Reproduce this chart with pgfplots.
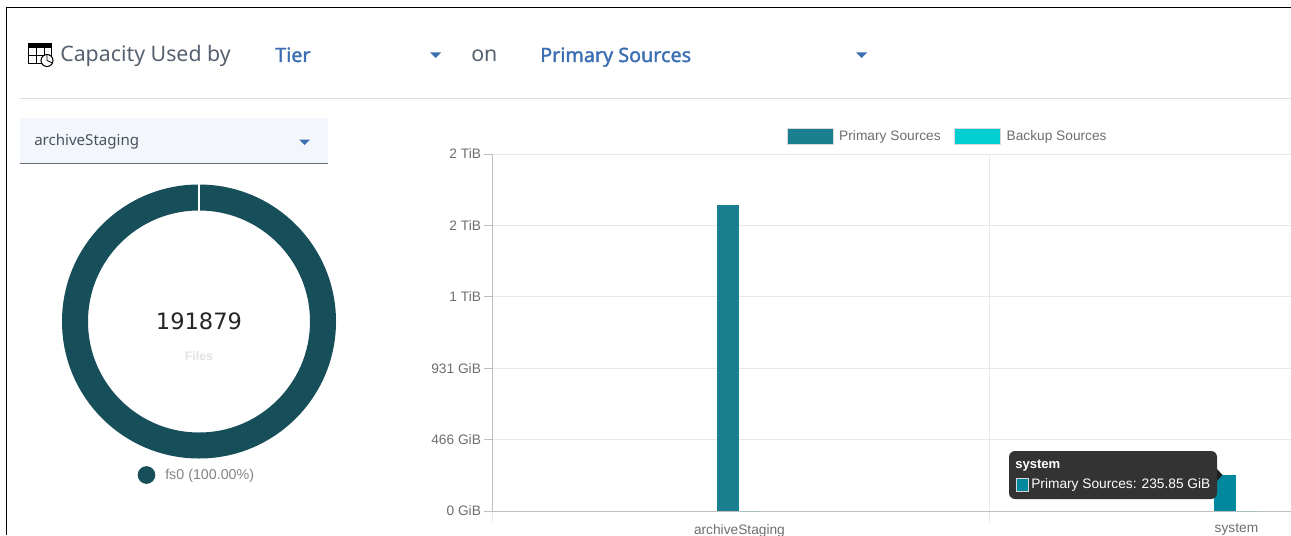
\documentclass[border=0pt]{standalone}
\usepackage{pgfplots}
\pgfplotsset{compat=1.18}
\usepackage{fontspec}
\setmainfont{Liberation Sans}
\newfontfamily\plex{Noto Sans}
\newfontfamily\plexb[FakeBold=1.6]{Noto Sans}
\newfontfamily\dejavu{DejaVu Sans}
\definecolor{pri}{HTML}{1A7F8E}
\definecolor{prihov}{HTML}{00889E}
\definecolor{bak}{HTML}{00CED1}
\definecolor{donut}{HTML}{164E5A}
\definecolor{ibm}{HTML}{3D70B2}
\definecolor{head}{HTML}{566270}
\definecolor{txt}{HTML}{6E6E6E}
\definecolor{gridc}{HTML}{E8E8E8}
\definecolor{sepc}{HTML}{DDDDDD}
\definecolor{ddbg}{HTML}{F3F6FB}
\definecolor{ddline}{HTML}{67707A}
\definecolor{tipbg}{HTML}{333333}
\definecolor{tiparr}{HTML}{222222}
\newcommand{\fsz}[1]{\fontsize{#1}{#1}\selectfont}
\begin{document}
\begin{tikzpicture}[x=0.75pt,y=-0.75pt]
\path[use as bounding box,fill=white] (0,0) rectangle (1291,535);
% frame
\draw[black,line width=0.9pt] (6.5,535) -- (6.5,7.5) -- (1291,7.5);
% header
\draw[fill=black,draw=none] (28,43) rectangle (52,48);
\draw[black,line width=0.8pt] (28.5,47) rectangle (51.5,63.5);
\draw[black,line width=0.7pt] (36,47)--(36,63.5) (44,47)--(44,63.5) (28.5,55)--(51.5,55);
\draw[black,fill=white,line width=0.8pt] (47,60.5) circle[radius=6];
\draw[black,line width=0.6pt] (47,60.5)--(47,54.5) (47,60.5)--(52.5,63) ;
\node[anchor=base west,inner sep=0,text=head] at (60,61) {\plex\fsz{16}Capacity Used by};
\node[anchor=base west,inner sep=0,text=ibm] at (275,62) {\plexb\fsz{14.8}Tier};
\node[anchor=base west,inner sep=0,text=head] at (471,61) {\plex\fsz{16}on};
\node[anchor=base west,inner sep=0,text=ibm] at (540,62) {\plexb\fsz{14.8}Primary Sources};
\fill[ibm] (430,52.5)--(441,52.5)--(435.5,58)--cycle;
\fill[ibm] (856,52.5)--(867,52.5)--(861.5,58)--cycle;
\draw[sepc,line width=0.75pt] (20,98.5)--(1291,98.5);
% dropdown
\fill[ddbg] (20,118) rectangle (328,163);
\draw[ddline,line width=0.9pt] (20,163.5)--(328,163.5);
\node[anchor=base west,inner sep=0,text=head!85!black] at (34,145) {\plex\fsz{11.3}archiveStaging};
\fill[ibm] (299,139.5)--(310,139.5)--(304.5,145)--cycle;
% donut
\path (199,321.5) coordinate (dc);
\begin{axis}[at={(dc)},anchor=center,scale only axis,width=205.5pt,height=205.5pt,
 xmin=-137,xmax=137,ymin=-137,ymax=137,hide axis,clip=false]
\addplot[only marks,mark=o,mark size=93pt,mark options={draw=donut,line width=19.5pt}] coordinates {(0,0)};
\addplot[only marks,mark=*,mark size=6.4pt,mark options={fill=donut,draw=donut}] coordinates {(-52.5,-153.5)};
\end{axis}
\draw[white,line width=1.5pt] (199,183)--(199,211);
\node[text=black!85] at (199,321) {\dejavu\fsz{16.9}191879};
\node[text=black!11] at (199,356) {\bfseries\fsz{9.3}Files};
\node[anchor=base west,inner sep=0,text=txt!85] at (165,479) {\fsz{10.7}fs0 (100.00\%)};
% bar chart
\path (492,511) coordinate (ao);
\begin{axis}[at={(ao)},anchor=south west,scale only axis,width=599.25pt,height=267.75pt,
 xmin=-0.5,xmax=1.1076,ymin=0,ymax=2328.3,
 axis x line=bottom,axis y line=left,axis line style={-,draw=black!25},
 tick align=outside,
 xtick={0,1},xticklabels={archiveStaging,system},
 minor xtick={-0.5,0.5},xminorgrids=true,
 minor tick length=8pt,major tick length=6pt,
 x tick style={draw=none},
 minor x tick style={draw=gridc,line width=0.6pt},
 ytick={0,465.66,931.32,1396.98,1862.64,2328.3},
 yticklabels={0 GiB,466 GiB,931 GiB,1 TiB,2 TiB,2 TiB},
 ymajorgrids=true,
 y tick style={draw=black!25,line width=0.6pt},
 grid style={draw=gridc,line width=0.6pt},
 minor grid style={draw=gridc,line width=0.6pt},
 tick label style={font=\fsz{10.3},text=txt},
 xticklabel style={yshift=-0.3pt,xshift=-0.8pt},
 yticklabel style={xshift=1.25pt},
 legend columns=2,
 legend style={at={(0.5707,1.0495)},anchor=center,draw=none,fill=none,
   font=\fsz{10.3},text=txt,
   /tikz/every even column/.append style={column sep=8pt},
   /tikz/every odd column/.append style={column sep=2.5pt},inner sep=0pt},
 legend cell align=left,
]
\addplot[ybar,bar width=17pt,bar shift=-9.3pt,fill=pri,draw=none,
  legend image code/.code={\fill[pri,draw=black!15,line width=0.4pt] (0pt,-6.2pt) rectangle (34.5pt,6.2pt);}]
  coordinates {(0,1996)};
\addlegendentry{Primary Sources}
\addplot[ybar,bar width=17pt,bar shift=-9.3pt,fill=prihov,draw=none,forget plot]
  coordinates {(1,235.85)};
\addplot[ybar,bar width=17pt,bar shift=8pt,fill=bak,draw=none,
  legend image code/.code={\fill[bak,draw=black!15,line width=0.4pt] (0pt,-6.2pt) rectangle (34.5pt,6.2pt);}]
  coordinates {(0,0)(1,0)};
\addlegendentry{Backup Sources}
\end{axis}
% tooltip
\fill[tipbg,rounded corners=4.5pt] (1009,451) rectangle (1217,499);
\fill[tiparr] (1217,469)--(1222.5,475)--(1217,481)--cycle;
\draw[white!85!black,fill=prihov,line width=0.6pt] (1016,478) rectangle (1028,491);
\node[anchor=base west,inner sep=0,text=white] at (1015,468) {\bfseries\fsz{9.8}system};
\node[anchor=base west,inner sep=0,text=white] at (1031,488) {\fsz{10.3}Primary Sources: 235.85 GiB};
\end{tikzpicture}
\end{document}
